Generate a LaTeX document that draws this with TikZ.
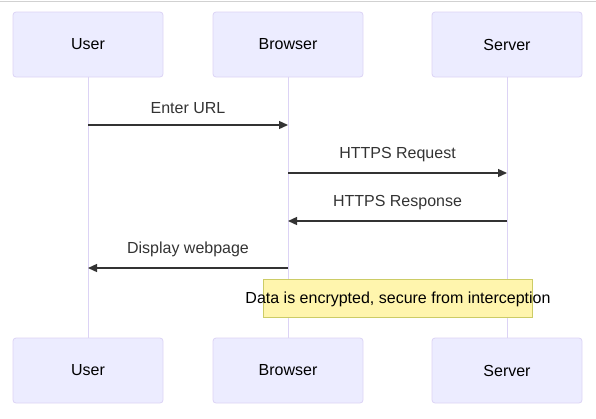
\documentclass[tikz,border=0pt]{standalone}
\usepackage{fontspec}
\setmainfont{Liberation Sans}
\usetikzlibrary{arrows.meta,positioning}
\definecolor{actfill}{HTML}{ECECFF}
\definecolor{actline}{HTML}{DCD3F5}
\definecolor{notefill}{HTML}{FFF5AD}
\definecolor{noteline}{HTML}{CCCC66}
\definecolor{msgline}{HTML}{333333}
\begin{document}
\begin{tikzpicture}[x=1pt, y=-1pt, font=\fontsize{16pt}{19pt}\selectfont,
  actor/.style = {draw=actline, fill=actfill, rounded corners=3pt, minimum width=150pt, minimum height=65pt, line width=0.8pt},
  life/.style = {draw=actline, line width=1pt},
  msg/.style = {draw=msgline, line width=1.3pt, -{Triangle[length=9pt,width=8pt]}},
  lbl/.style = {text=msgline, above=7pt},
  note/.style = {draw=noteline, fill=notefill, minimum width=269pt, minimum height=38pt, line width=0.8pt}]
\useasboundingbox (0,0) rectangle (596,418);
\draw[draw=black!18, line width=1pt] (0,1.5) -- (596,1.5);
% actors on top
\node[actor] (userA) at (88,44.5) {User};
\node[actor] (browserA) at (288,44.5) {Browser};
\node[actor] (serverA) at (507,44.5) {Server};
% actors at the bottom
\node[actor] (userB) at (88,370.5) {User};
\node[actor] (browserB) at (288,370.5) {Browser};
\node[actor] (serverB) at (507,370.5) {Server};
% lifelines
\draw[life] (userA) -- (userB);
\draw[life] (browserA) -- (browserB);
\draw[life] (serverA) -- (serverB);
% points on the lifelines
\coordinate (u1) at (88,125);
\coordinate (b1) at (288,125);
\coordinate (b2) at (288,173);
\coordinate (s2) at (507,173);
\coordinate (s3) at (507,221);
\coordinate (b3) at (288,221);
\coordinate (b4) at (288,268);
\coordinate (u4) at (88,268);
% messages
\draw[msg] (u1) -- node[lbl] (m1) {Enter URL} (b1);
\draw[msg] (b2) -- node[lbl] (m2) {HTTPS Request} (s2);
\draw[msg] (s3) -- node[lbl] (m3) {HTTPS Response} (b3);
\draw[msg] (b4) -- node[lbl] (m4) {Display webpage} (u4);
% note
\node[note] (secure) at (397.5,298) {};
\node (securetxt) at (398,299) {Data is encrypted, secure from interception};
\end{tikzpicture}
\end{document}
